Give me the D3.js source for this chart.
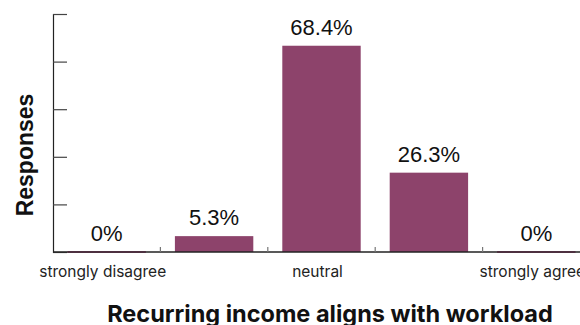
<!DOCTYPE html>
<html>
<head>
<meta charset="utf-8">
<script src="https://cdn.jsdelivr.net/npm/d3@7/dist/d3.min.js"></script>
<style>
  html, body { margin: 0; padding: 0; background: #fff; }
  svg { display: block; }
</style>
</head>
<body>
<svg id="chart" width="580" height="325"></svg>
<script>
// Survey answers: number of respondents per answer and the share they represent
const categories = ["strongly disagree", "disagree", "neutral", "agree", "strongly agree"];
const counts = [0, 1, 13, 5, 0];
const shareLabels = ["0%", "5.3%", "68.4%", "26.3%", "0%"];
const shownCategoryLabels = ["strongly disagree", "neutral", "strongly agree"];
const yTicks = [0, 3, 6, 9, 12, 15];

const svg = d3.select("#chart");
const plotLeft = 53, plotRight = 590, plotTop = 14, plotBottom = 252;
const barColor = "#8d436b";

const x = d3.scaleBand()
  .domain(categories)
  .range([plotLeft, plotRight])
  .paddingInner(0.27)
  .paddingOuter(0.135);

const y = d3.scaleLinear().domain([0, 15]).range([plotBottom, plotTop]);

// y axis: ticks pointing into the plot, no labels
const yAxis = svg.append("g")
  .attr("transform", `translate(${plotLeft},0)`)
  .call(d3.axisLeft(y).tickValues(yTicks).tickSize(-14).tickFormat(""));
yAxis.select(".domain").attr("stroke", "#222").attr("stroke-width", 1.2);
yAxis.selectAll(".tick line").attr("stroke", "#444").attr("stroke-width", 1.2);

// bars
svg.append("g").selectAll("rect")
  .data(categories)
  .join("rect")
  .attr("x", d => x(d))
  .attr("width", x.bandwidth())
  .attr("y", (d, i) => y(counts[i]))
  .attr("height", (d, i) => Math.max(0, plotBottom - y(counts[i])))
  .attr("fill", barColor);

// baseline
svg.append("line")
  .attr("x1", plotLeft).attr("x2", plotRight)
  .attr("y1", plotBottom).attr("y2", plotBottom)
  .attr("stroke", "#222").attr("stroke-width", 1.4);

// zero-height bars leave a thin coloured line on the baseline
svg.append("g").selectAll("line")
  .data(categories.filter((d, i) => counts[i] === 0))
  .join("line")
  .attr("x1", d => x(d)).attr("x2", d => x(d) + x.bandwidth())
  .attr("y1", plotBottom).attr("y2", plotBottom)
  .attr("stroke", "#4a2338").attr("stroke-width", 1.4);

// small ticks between bands
const gap = x.step() * x.paddingInner() / 2;
svg.append("g").selectAll("line")
  .data(categories.slice(1))
  .join("line")
  .attr("x1", d => x(d) - gap).attr("x2", d => x(d) - gap)
  .attr("y1", plotBottom).attr("y2", plotBottom - 5)
  .attr("stroke", "#777").attr("stroke-width", 1.2);

// value labels
svg.append("g").selectAll("text")
  .data(categories)
  .join("text")
  .attr("x", d => x(d) + x.bandwidth() / 2)
  .attr("y", (d, i) => y(counts[i]) - 11)
  .attr("text-anchor", "middle")
  .attr("font-family", "'Liberation Sans', Arial, sans-serif")
  .attr("font-size", 22)
  .attr("fill", "#111")
  .text((d, i) => shareLabels[i]);

// category labels
svg.append("g").selectAll("text")
  .data(shownCategoryLabels)
  .join("text")
  .attr("x", d => x(d) + x.bandwidth() / 2)
  .attr("dx", -4)
  .attr("y", plotBottom + 25)
  .attr("text-anchor", "middle")
  .attr("font-family", "Inter, 'Noto Sans', sans-serif")
  .attr("font-size", 15.5)
  .attr("fill", "#222")
  .text(d => d);

// axis titles
svg.append("text")
  .attr("transform", `translate(33,${(plotTop + plotBottom) / 2 + 22}) rotate(-90)`)
  .attr("text-anchor", "middle")
  .attr("font-family", "'Liberation Sans', Arial, sans-serif")
  .attr("font-weight", "bold")
  .attr("font-size", 23)
  .attr("fill", "#111")
  .text("Responses");

svg.append("text")
  .attr("x", 330)
  .attr("y", 322)
  .attr("text-anchor", "middle")
  .attr("font-family", "Inter, 'Noto Sans', sans-serif")
  .attr("font-weight", "bold")
  .attr("font-size", 23.5)
  .attr("fill", "#111")
  .text("Recurring income aligns with workload");
</script>
</body>
</html>
